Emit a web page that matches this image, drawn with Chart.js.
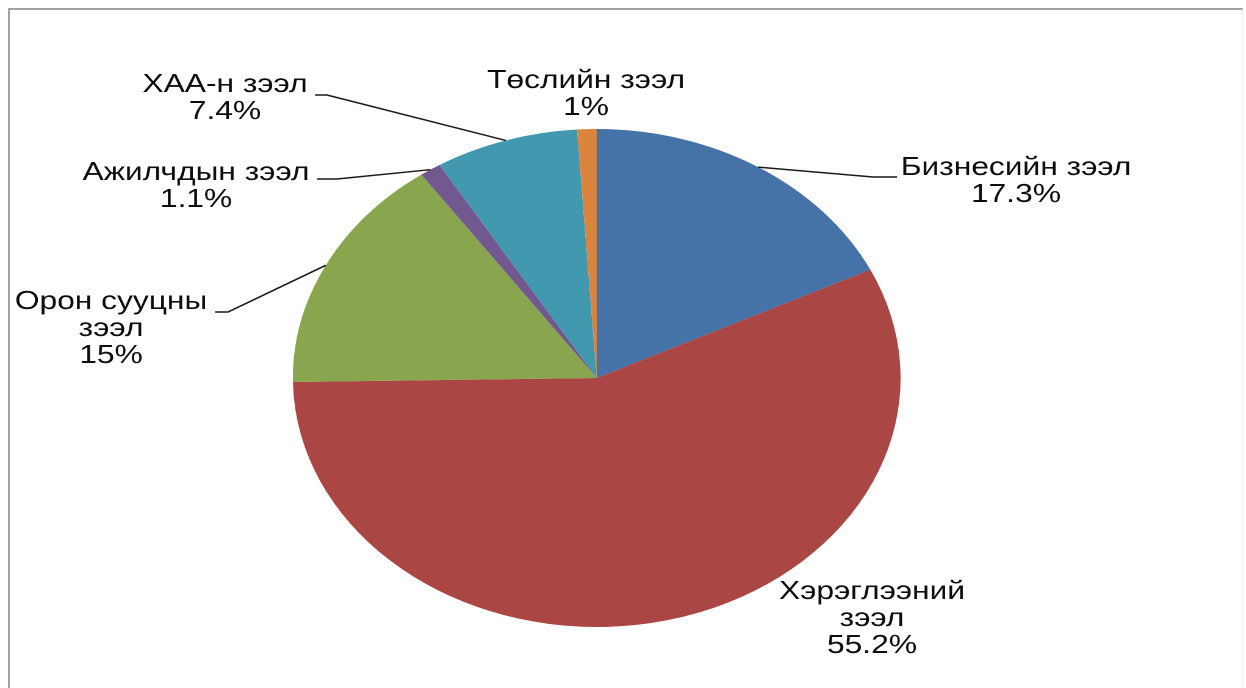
<!DOCTYPE html>
<html><head><meta charset="utf-8">
<script src="https://cdn.jsdelivr.net/npm/chart.js@4"></script>
<style>
html,body{margin:0;padding:0;background:#fff;overflow:hidden;width:1246px;height:688px}
#frame{position:absolute;left:8px;top:8px;width:1235px;height:681px;border-top:2px solid #a2a2a2;border-left:2px solid #a2a2a2;border-right:1px solid #ececec;border-bottom:1px solid #f0f0f0;box-sizing:border-box}
#wrap{position:absolute;left:0;top:0;width:1021px;height:688px;transform:scaleX(1.2203);transform-origin:0 0}
</style></head><body>
<div id="frame"></div>
<div id="wrap"><canvas id="c" style="width:1021px;height:688px"></canvas></div>
<script>
// ---- data ----
const categories = ['Бизнесийн зээл','Хэрэглээний зээл','Орон сууцны зээл','Ажилчдын зээл','ХАА-н зээл','Төслийн зээл'];
const shares = [17.3, 55.2, 15, 1.1, 7.4, 1];
const percentLabels = ['17.3%','55.2%','15%','1.1%','7.4%','1%'];
const labelTextLines = [['Бизнесийн зээл'],['Хэрэглээний','зээл'],['Орон сууцны','зээл'],['Ажилчдын зээл'],['ХАА-н зээл'],['Төслийн зээл']];
const sliceColors = ['#4572A7','#AA4643','#89A54E','#71588F','#4198AF','#DB843D'];

// ---- annotation layout (screen px) ----
const S = 1.2203; // horizontal stretch of the original picture
const labelPos = [[1016,168],[872,592],[111,302],[196,173],[225,85],[586,81]];
const lineGap = 27;
const elbows = [[[897,177],[873,177]], null, [[215,312],[228,312]], [[317,179],[337,179]], [[315,95],[327,95]], null];

const labelPlugin = {
  id:'pieLabels',
  afterDatasetsDraw(chart){
    const ctx = chart.ctx;
    const arcs = chart.getDatasetMeta(0).data;
    ctx.save();
    ctx.strokeStyle = '#1a1a1a';
    ctx.lineWidth = 1.5;
    arcs.forEach((a,i)=>{
      const e = elbows[i];
      if(!e) return;
      const p = a.getProps(['x','y','startAngle','endAngle','outerRadius'], true);
      const mid = (p.startAngle + p.endAngle)/2;
      const ax = p.x + p.outerRadius*Math.cos(mid);
      const ay = p.y + p.outerRadius*Math.sin(mid);
      ctx.beginPath();
      ctx.moveTo(e[0][0]/S, e[0][1]);
      ctx.lineTo(e[1][0]/S, e[1][1]);
      ctx.lineTo(ax, ay);
      ctx.stroke();
    });
    ctx.fillStyle = '#0d0d0d';
    ctx.font = '26px "Liberation Sans", Arial, sans-serif';
    ctx.textAlign = 'center';
    ctx.textBaseline = 'middle';
    arcs.forEach((a,i)=>{
      const lines = labelTextLines[i].concat([percentLabels[i]]);
      const [x,y] = labelPos[i];
      lines.forEach((t,k)=>ctx.fillText(t, x/S, y + k*lineGap));
    });
    ctx.restore();
  }
};

new Chart(document.getElementById('c'), {
  type:'pie',
  data:{ labels:categories, datasets:[{ data:shares, backgroundColor:sliceColors, borderWidth:0 }] },
  options:{
    responsive:false,
    devicePixelRatio:2,
    animation:false,
    layout:{ padding:{ left:240, right:283, top:129, bottom:61 } },
    plugins:{ legend:{display:false}, tooltip:{enabled:false} }
  },
  plugins:[labelPlugin]
});
</script>
</body></html>
